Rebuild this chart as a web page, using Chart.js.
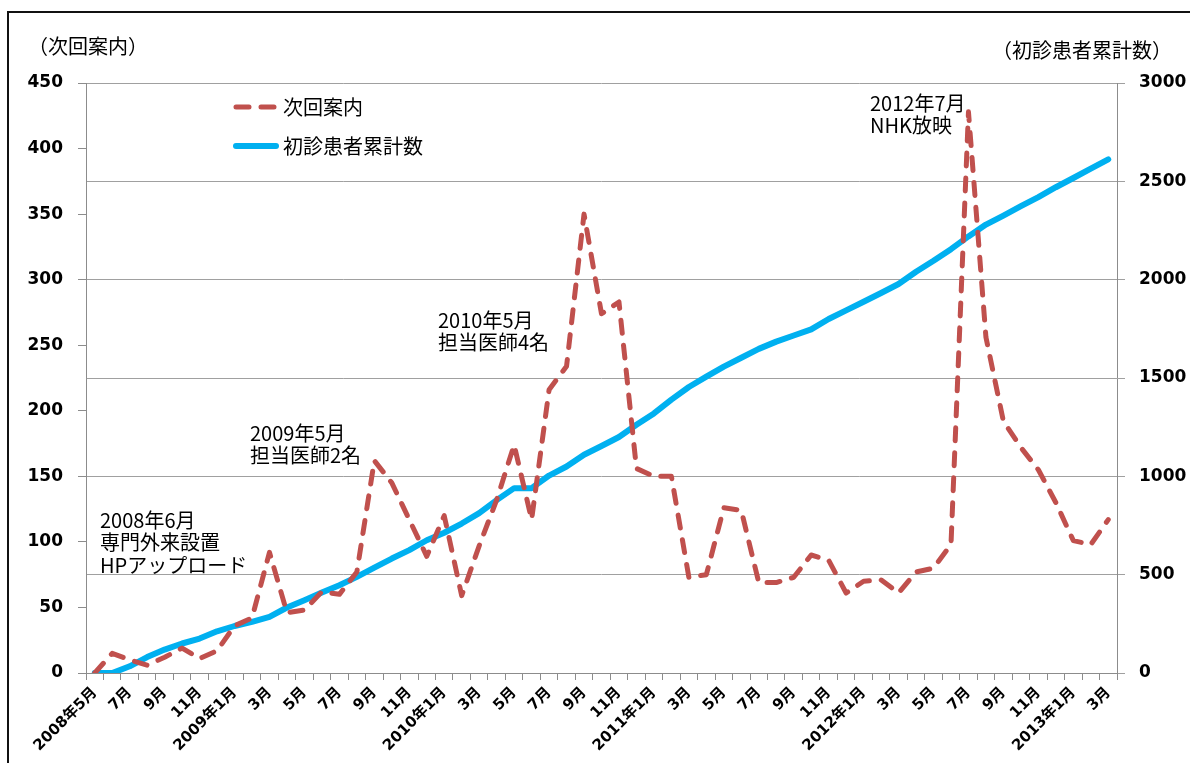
<!DOCTYPE html>
<html lang="ja">
<head>
<meta charset="utf-8">
<script src="https://cdn.jsdelivr.net/npm/chart.js@4.4.1/dist/chart.umd.min.js"></script>
<style>
  html, body { margin: 0; padding: 0; background: #fff; }
  #wrap { width: 1190px; height: 763px; position: relative; }
</style>
</head>
<body>
<div id="wrap"><canvas id="c" width="1190" height="763"></canvas></div>
<script>
// Months, 2008年5月 – 2013年3月
const months = [
  '2008年5月','6月','7月','8月','9月','10月','11月','12月',
  '2009年1月','2月','3月','4月','5月','6月','7月','8月','9月','10月','11月','12月',
  '2010年1月','2月','3月','4月','5月','6月','7月','8月','9月','10月','11月','12月',
  '2011年1月','2月','3月','4月','5月','6月','7月','8月','9月','10月','11月','12月',
  '2012年1月','2月','3月','4月','5月','6月','7月','8月','9月','10月','11月','12月',
  '2013年1月','2月','3月'
];

// 次回案内 (monthly count, left axis)
const visitGuides = [
  0, 15, 10, 6, 12, 19, 11, 17,
  36, 42, 92, 46, 48, 62, 60, 77, 162, 145, 117, 89,
  120, 59, 97, 132, 174, 117, 216, 234, 350, 274, 283, 156,
  150, 150, 73, 75, 126, 124, 69, 69, 73, 90, 86, 61,
  70, 71, 61, 77, 80, 98, 428, 256, 192, 172, 155, 130,
  101, 98, 117
];

// 初診患者累計数 (cumulative, right axis)
const cumulativePatients = [
  0, 0, 34, 81, 119, 150, 175, 212,
  239, 260, 285, 333, 370, 409, 446, 489, 536, 582, 625, 675,
  713, 760, 813, 879, 940, 940, 1004, 1050, 1110, 1154, 1200, 1262,
  1320, 1390, 1454, 1507, 1558, 1603, 1648, 1685, 1716, 1747, 1800, 1844,
  1888, 1932, 1978, 2040, 2096, 2155, 2220, 2280, 2326, 2374, 2420, 2470,
  2517, 2565, 2612
];

const seriesNames = ['次回案内', '初診患者累計数'];
const axisTitles = ['（次回案内）', '（初診患者累計数）'];

// Event notes written on the plot
const noteTexts = [
  ['2008年6月', '専門外来設置', 'HPアップロード'],
  ['2009年5月', '担当医師2名'],
  ['2010年5月', '担当医師4名'],
  ['2012年7月', 'NHK放映']
];
const noteAnchors = [
  { x: 100, y: 520 },
  { x: 250, y: 433 },
  { x: 438, y: 320 },
  { x: 870, y: 103 }
];

const RED = '#C0504D';
const BLUE = '#00B0F0';
const AXIS = '#8c8c8c';
const CJK = '"Noto Sans CJK JP", sans-serif';
const NUM = '"DejaVu Sans", "Noto Sans CJK JP", sans-serif';

const decorations = {
  id: 'decorations',
  beforeDraw(chart) {
    const ctx = chart.ctx;
    ctx.save();
    ctx.fillStyle = '#fff';
    ctx.fillRect(0, 0, chart.width, chart.height);
    ctx.restore();
  },
  afterDraw(chart) {
    const ctx = chart.ctx;
    ctx.save();

    // outer frame
    ctx.strokeStyle = '#111';
    ctx.lineWidth = 2;
    ctx.beginPath();
    ctx.moveTo(8, chart.height + 5);
    ctx.lineTo(8, 12);
    ctx.lineTo(chart.width + 5, 12);
    ctx.stroke();

    // axis titles
    ctx.fillStyle = '#000';
    ctx.textBaseline = 'middle';
    ctx.font = '20px ' + CJK;
    ctx.textAlign = 'left';
    ctx.fillText(axisTitles[0], 28, 46);
    ctx.textAlign = 'right';
    ctx.fillText(axisTitles[1], 1172, 50);

    // notes
    ctx.textAlign = 'left';
    ctx.font = '20px ' + CJK;
    noteTexts.forEach((lines, i) => {
      const a = noteAnchors[i];
      lines.forEach((t, j) => ctx.fillText(t, a.x, a.y + j * 22.5));
    });

    // legend
    const ds = chart.data.datasets;
    const rows = [107, 146];
    ds.forEach((d, i) => {
      const y = rows[i];
      ctx.beginPath();
      ctx.strokeStyle = d.borderColor;
      ctx.lineWidth = d.borderWidth;
      ctx.lineCap = 'round';
      ctx.setLineDash(d.borderDash || []);
      ctx.moveTo(236, y);
      ctx.lineTo(276, y);
      ctx.stroke();
      ctx.setLineDash([]);
      ctx.fillStyle = '#000';
      ctx.font = '20px ' + CJK;
      ctx.fillText(d.label, 283, y);
    });

    ctx.restore();
  }
};

new Chart(document.getElementById('c'), {
  type: 'line',
  data: {
    labels: months,
    datasets: [
      {
        label: seriesNames[0],
        data: visitGuides,
        yAxisID: 'y',
        borderColor: RED,
        borderWidth: 5,
        borderDash: [13, 12],
        borderCapStyle: 'round',
        borderJoinStyle: 'round',
        pointRadius: 0,
        tension: 0,
        fill: false
      },
      {
        label: seriesNames[1],
        data: cumulativePatients,
        yAxisID: 'y1',
        borderColor: BLUE,
        borderWidth: 6,
        borderCapStyle: 'round',
        borderJoinStyle: 'round',
        pointRadius: 0,
        tension: 0,
        fill: false
      }
    ]
  },
  options: {
    responsive: false,
    devicePixelRatio: 1,
    animation: false,
    layout: { padding: { top: 83, left: 0, right: 0, bottom: 0 } },
    plugins: {
      legend: { display: false },
      tooltip: { enabled: false }
    },
    scales: {
      x: {
        offset: true,
        afterFit(scale) { scale.height = 90; },
        grid: {
          offset: true,
          drawOnChartArea: false,
          drawTicks: true,
          tickLength: 7,
          color: AXIS
        },
        border: { color: AXIS, width: 1 },
        ticks: {
          autoSkip: false,
          minRotation: 45,
          maxRotation: 45,
          padding: 4,
          color: '#000',
          font: { family: NUM, size: 15, weight: 'bold' },
          callback(value, index) {
            return index % 2 === 0 ? this.getLabelForValue(value) : '';
          }
        }
      },
      y: {
        position: 'left',
        min: 0,
        max: 450,
        afterFit(scale) { scale.width = 86; },
        grid: { drawOnChartArea: false, drawTicks: true, tickLength: 8, color: AXIS },
        border: { color: AXIS, width: 1 },
        ticks: {
          stepSize: 50,
          padding: 15,
          color: '#000',
          font: { family: NUM, size: 17, weight: 'bold' },
          callback(value) { return String(value); }
        }
      },
      y1: {
        position: 'right',
        min: 0,
        max: 3000,
        afterFit(scale) { scale.width = 73; },
        grid: { drawOnChartArea: true, drawTicks: true, tickLength: 8, color: '#a0a0a0' },
        border: { color: AXIS, width: 1 },
        ticks: {
          stepSize: 500,
          padding: 14,
          color: '#000',
          font: { family: NUM, size: 17, weight: 'bold' },
          callback(value) { return String(value); }
        }
      }
    }
  },
  plugins: [decorations]
});
</script>
</body>
</html>
